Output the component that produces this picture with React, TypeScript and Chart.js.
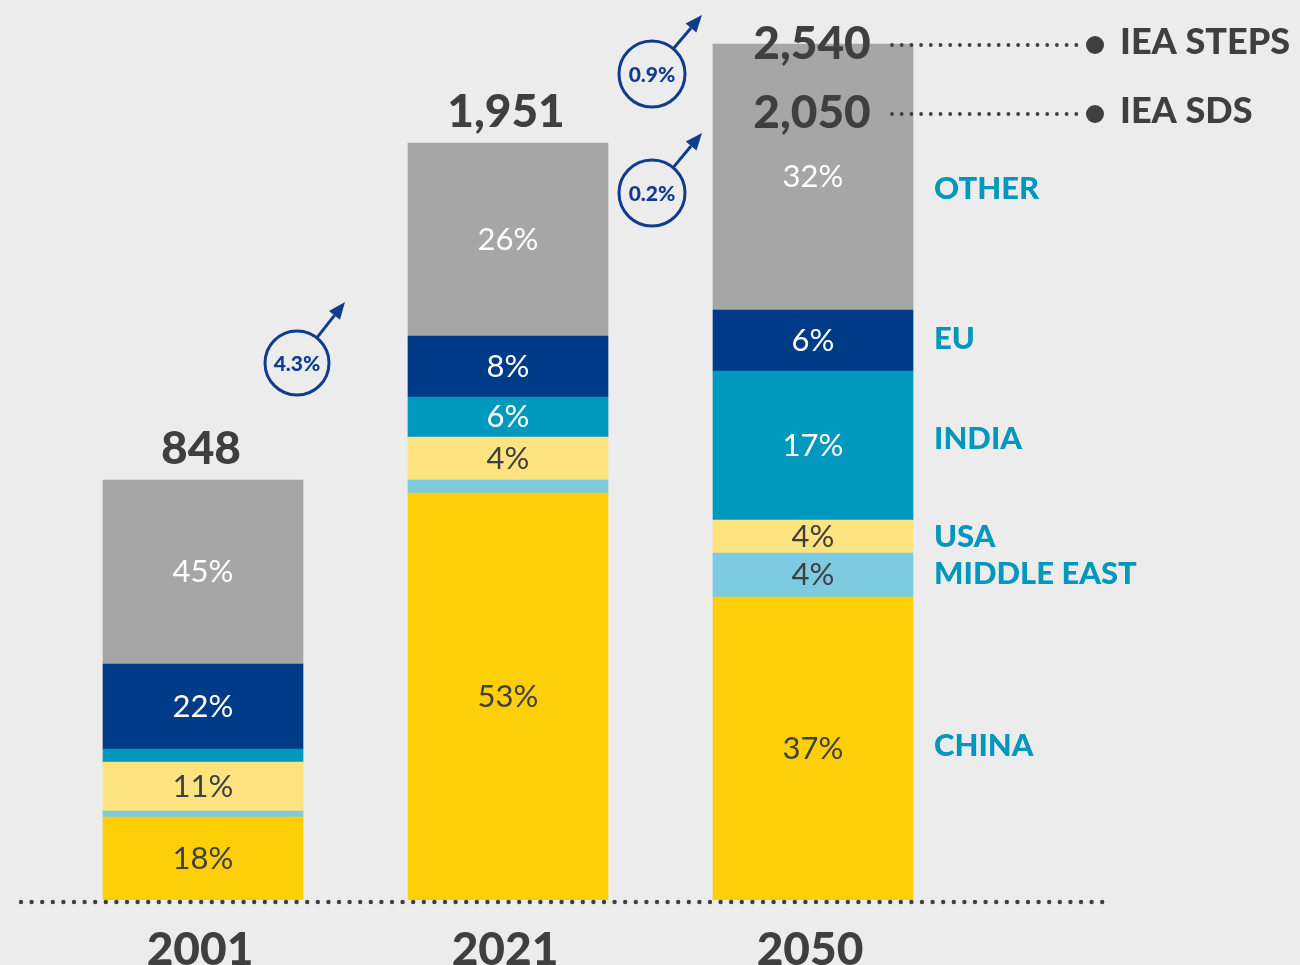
import React, { useEffect, useRef } from 'react';
import { Chart, registerables } from 'chart.js';

Chart.register(...registerables);

const years = ['2001', '2021', '2050'];
const totalLabels = ['848', '1,951', '2,540'];
const scenarioValues = ['2,540', '2,050'];
const scenarioNames = ['IEA STEPS', 'IEA SDS'];
const growthRates = ['4.3%', '0.9%', '0.2%'];
const regions = ['CHINA', 'MIDDLE EAST', 'USA', 'INDIA', 'EU', 'OTHER'];

// segment sizes (display units), bottom to top
const china = [83, 407, 303];
const middleEast = [6, 13, 44];
const usa = [49, 43, 33];
const india = [13, 40, 149];
const eu = [85, 61, 61];
const other = [184, 193, 266];

// share labels printed in each segment
const chinaShare = ['18%', '53%', '37%'];
const middleEastShare = ['', '', '4%'];
const usaShare = ['11%', '4%', '4%'];
const indiaShare = ['', '6%', '17%'];
const euShare = ['22%', '8%', '6%'];
const otherShare = ['45%', '26%', '32%'];

const colors = ['#fccf07', '#7ecae0', '#fde480', '#0099bd', '#003b87', '#a6a6a6'];
const shareTextColors = ['#3f3f3f', '#3f3f3f', '#3f3f3f', '#ffffff', '#ffffff', '#ffffff'];

const DARK = '#3f3f3f';
const NAVY = '#0f3c8c';
const TEAL = '#0097bd';
const FONT = 'Lato, "Open Sans", sans-serif';

function drawGrowth(ctx: CanvasRenderingContext2D, cx: number, cy: number, r: number, tx: number, ty: number, text: string) {
  ctx.save();
  ctx.strokeStyle = NAVY;
  ctx.fillStyle = NAVY;
  ctx.lineWidth = 3;
  ctx.beginPath();
  ctx.arc(cx, cy, r, 0, Math.PI * 2);
  ctx.stroke();
  const a = Math.atan2(ty - cy, tx - cx);
  const sx = cx + r * Math.cos(a);
  const sy = cy + r * Math.sin(a);
  const headLen = 17;
  const headW = 7;
  const bx = tx - headLen * Math.cos(a);
  const by = ty - headLen * Math.sin(a);
  ctx.beginPath();
  ctx.moveTo(sx, sy);
  ctx.lineTo(bx, by);
  ctx.stroke();
  ctx.beginPath();
  ctx.moveTo(tx, ty);
  ctx.lineTo(bx + headW * Math.sin(a), by - headW * Math.cos(a));
  ctx.lineTo(bx - headW * Math.sin(a), by + headW * Math.cos(a));
  ctx.closePath();
  ctx.fill();
  ctx.font = `900 21px ${FONT}`;
  ctx.textAlign = 'center';
  ctx.textBaseline = 'middle';
  ctx.fillText(text, cx, cy + 1);
  ctx.restore();
}

function dottedLine(ctx: CanvasRenderingContext2D, x0: number, x1: number, y: number, step: number, r: number) {
  for (let x = x0; x <= x1; x += step) {
    ctx.beginPath();
    ctx.arc(x, y, r, 0, Math.PI * 2);
    ctx.fill();
  }
}

const annotationPlugin = {
  id: 'annotations',
  afterDatasetsDraw(chart: any) {
    const ctx: CanvasRenderingContext2D = chart.ctx;
    const shares = [chinaShare, middleEastShare, usaShare, indiaShare, euShare, otherShare];
    ctx.save();
    // share labels inside segments
    ctx.textAlign = 'center';
    ctx.textBaseline = 'middle';
    ctx.font = `31px ${FONT}`;
    chart.data.datasets.forEach((ds: any, di: number) => {
      const meta = chart.getDatasetMeta(di);
      meta.data.forEach((bar: any, i: number) => {
        const t = shares[di][i];
        if (!t) return;
        ctx.fillStyle = shareTextColors[di];
        ctx.fillText(t, bar.x, (bar.y + bar.base) / 2);
      });
    });

    const topMeta = chart.getDatasetMeta(chart.data.datasets.length - 1);
    // totals above bars
    ctx.fillStyle = DARK;
    ctx.font = `900 46px ${FONT}`;
    topMeta.data.forEach((bar: any, i: number) => {
      if (i === 2) return;
      ctx.fillText(totalLabels[i], bar.x - 2, bar.y - 31);
    });
    // scenario values on 2050 bar
    const last = topMeta.data[2];
    const scenY = [last.y, last.y + 69];
    scenarioValues.forEach((v, k) => {
      ctx.fillStyle = DARK;
      ctx.font = `900 46px ${FONT}`;
      ctx.textAlign = 'center';
      ctx.fillText(v, last.x - 1, scenY[k]);
      dottedLine(ctx, 892, 1086, scenY[k] + 1, 9.7, 1.9);
      ctx.beginPath();
      ctx.arc(1095, scenY[k] + 1, 9, 0, Math.PI * 2);
      ctx.fill();
      ctx.font = `900 36px ${FONT}`;
      ctx.textAlign = 'left';
      ctx.fillText(scenarioNames[k], 1120, scenY[k] - 2);
    });

    // region labels to the right of 2050 bar
    ctx.fillStyle = TEAL;
    ctx.font = `900 31px ${FONT}`;
    ctx.textAlign = 'left';
    const labelShift = [-3, -1, 0, -7, -2, 12];
    chart.data.datasets.forEach((ds: any, di: number) => {
      const bar = chart.getDatasetMeta(di).data[2];
      ctx.fillText(regions[di], 934, (bar.y + bar.base) / 2 + labelShift[di]);
    });

    // baseline dotted line
    ctx.fillStyle = DARK;
    const base = chart.scales.y.getPixelForValue(0);
    dottedLine(ctx, 21, 1108, base + 2, 10.6, 2.2);

    // year labels
    ctx.fillStyle = DARK;
    ctx.font = `900 46px ${FONT}`;
    ctx.textAlign = 'center';
    ctx.textBaseline = 'alphabetic';
    years.forEach((y, i) => {
      const x = chart.scales.x.getPixelForValue(i);
      ctx.fillText(y, x - 3, base + 65);
    });

    // growth-rate circles
    drawGrowth(ctx, 297, 363, 32, 345, 302, growthRates[0]);
    drawGrowth(ctx, 652, 74, 33, 702, 15, growthRates[1]);
    drawGrowth(ctx, 652, 193, 33, 702, 133, growthRates[2]);
    ctx.restore();
  },
};

export default function App() {
  const ref = useRef<HTMLCanvasElement>(null);
  useEffect(() => {
    if (!ref.current) return;
    const series = [china, middleEast, usa, india, eu, other];
    const chart = new Chart(ref.current, {
      type: 'bar',
      data: {
        labels: years,
        datasets: series.map((d, i) => ({
          label: regions[i],
          data: d,
          backgroundColor: colors[i],
          borderWidth: 0,
          barThickness: 200,
        })),
      },
      options: {
        animation: false,
        responsive: false,
        devicePixelRatio: 1,
        layout: { padding: { left: 50.5, right: 334.5, top: 0, bottom: 65 } },
        plugins: { legend: { display: false }, tooltip: { enabled: false } },
        scales: {
          x: { stacked: true, display: false },
          y: { stacked: true, display: false, min: 0, max: 900 },
        },
      },
      plugins: [annotationPlugin],
    });
    return () => chart.destroy();
  }, []);
  return (
    <div style={{ position: 'fixed', left: 0, top: 0, width: 1300, height: 965, background: '#ececec' }}>
      <canvas ref={ref} width={1300} height={965} style={{ display: 'block' }} />
    </div>
  );
}
